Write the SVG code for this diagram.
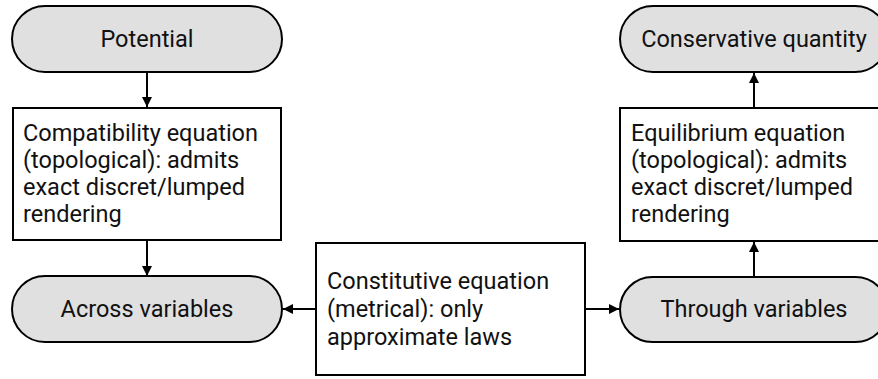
<svg xmlns="http://www.w3.org/2000/svg" width="878" height="379" viewBox="0 0 878 379">
  <style>
    .pill { fill: #e0e0e0; stroke: #000; stroke-width: 2; }
    .box { fill: #fff; stroke: #000; stroke-width: 2; }
    .lbl { font-family: Roboto, "Liberation Sans", sans-serif; font-size: 23.5px; fill: #111; }
    .mid { text-anchor: middle; }
    .edge { stroke: #000; stroke-width: 2; fill: none; marker-end: url(#head); }
  </style>
  <defs>
    <marker id="head" viewBox="0 0 10 10" refX="10" refY="5" markerWidth="10" markerHeight="10" markerUnits="userSpaceOnUse" orient="auto">
      <path d="M0,0 L10,5 L0,10 z" fill="#000"/>
    </marker>
  </defs>

  <rect width="878" height="379" fill="#fff"/>

  <g id="connectors">
    <line class="edge" x1="147" y1="72" x2="147" y2="107"/>
    <line class="edge" x1="147" y1="241" x2="147" y2="276"/>
    <line class="edge" x1="316" y1="309" x2="283" y2="309"/>
    <line class="edge" x1="585" y1="309" x2="619" y2="309"/>
    <line class="edge" x1="754" y1="277" x2="754" y2="242"/>
    <line class="edge" x1="754" y1="108" x2="754" y2="73"/>
  </g>

  <g id="potential">
    <rect class="pill" x="12" y="6" width="270" height="66" rx="33" ry="33"/>
    <text class="lbl mid" x="147" y="47">Potential</text>
  </g>

  <g id="compatibility">
    <rect class="box" x="13" y="108" width="268" height="132"/>
    <text class="lbl" x="23" y="141">Compatibility equation</text>
    <text class="lbl" x="23" y="168">(topological): admits</text>
    <text class="lbl" x="23" y="195">exact discret/lumped</text>
    <text class="lbl" x="23" y="222">rendering</text>
  </g>

  <g id="across">
    <rect class="pill" x="12" y="276" width="270" height="66" rx="33" ry="33"/>
    <text class="lbl mid" x="147" y="317">Across variables</text>
  </g>

  <g id="constitutive">
    <rect class="box" x="316" y="243" width="269" height="132"/>
    <text class="lbl" x="327" y="289">Constitutive equation</text>
    <text class="lbl" x="327" y="317">(metrical): only</text>
    <text class="lbl" x="327" y="345">approximate laws</text>
  </g>

  <g id="through">
    <rect class="pill" x="620" y="277" width="268" height="65" rx="32.5" ry="32.5"/>
    <text class="lbl mid" x="754" y="317">Through variables</text>
  </g>

  <g id="equilibrium">
    <rect class="box" x="620" y="108" width="268" height="133"/>
    <text class="lbl" x="631" y="141">Equilibrium equation</text>
    <text class="lbl" x="631" y="168">(topological): admits</text>
    <text class="lbl" x="631" y="195">exact discret/lumped</text>
    <text class="lbl" x="631" y="222">rendering</text>
  </g>

  <g id="conservative">
    <rect class="pill" x="620" y="6" width="268" height="66" rx="33" ry="33"/>
    <text class="lbl mid" x="754" y="47">Conservative quantity</text>
  </g>
</svg>
